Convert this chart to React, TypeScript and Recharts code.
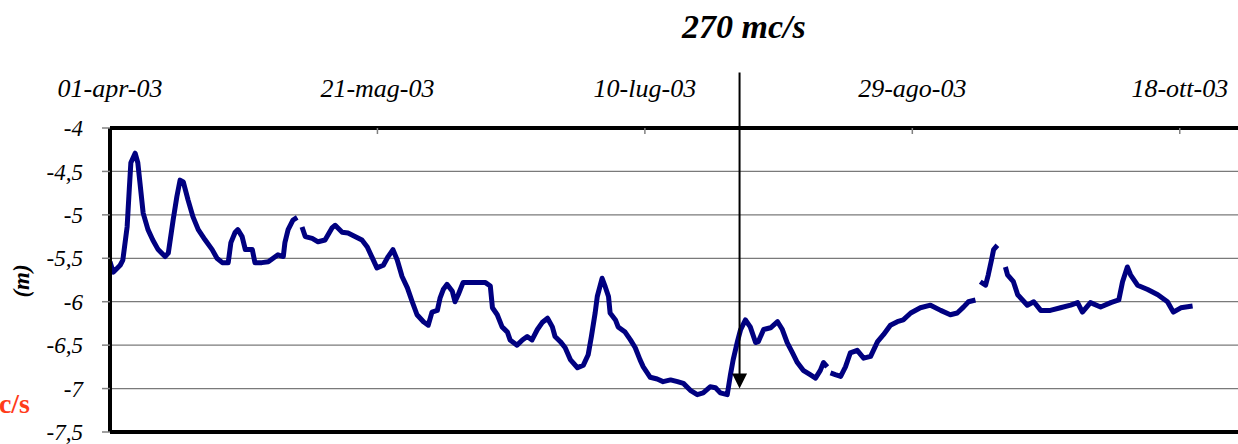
import {
  LineChart,
  Line,
  XAxis,
  YAxis,
  CartesianGrid,
  ReferenceLine,
  ReferenceDot,
} from "recharts";

// days counted from 01-apr-03, water level in metres (null = gap in record)
const days = [
  0, 0.6, 1.9, 2.4, 3.2, 3.6, 3.9, 4.7, 5.2, 5.6, 6.2, 7.1, 8.0, 9.0, 10.3, 10.9,
  11.8, 12.5, 13.1, 13.7, 14.6, 15.5, 16.5, 17.8, 19.1, 20.0, 21.0, 22.1, 22.6,
  23.4, 23.9, 24.7, 25.3, 26.6, 27.1, 28.4, 29.6, 30.5, 31.4, 32.4, 32.7, 33.3,
  34.2, 35.0, 35.4, 35.9, 36.5, 37.8, 38.9, 40.2, 41.5, 42.1, 43.4, 44.5, 45.8,
  47.1, 48.1, 49.0, 49.9, 51.1, 52.0, 52.9, 53.7, 54.6, 55.6, 56.5, 57.4, 58.6,
  59.5, 60.2, 61.2, 61.7, 62.3, 63.0, 64.0, 64.5, 65.1, 66.0, 67.3, 70.2, 71.1,
  71.5, 72.4, 73.3, 74.3, 74.8, 76.1, 77.1, 78.0, 78.9, 79.9, 80.8, 81.8, 82.7,
  83.2, 84.2, 85.1, 86.1, 87.4, 88.5, 89.4, 90.0, 90.7, 91.1, 92.0, 92.6, 93.2,
  93.5, 94.5, 95.0, 96.3, 97.3, 98.2, 99.1, 99.7, 101.0, 102.3, 103.4, 104.8,
  106.1, 107.2, 108.5, 109.8, 110.9, 112.2, 113.2, 114.1, 115.4, 116.0, 116.5,
  117.3, 117.9, 118.8, 119.7, 120.7, 121.2, 122.2, 123.5, 124.8, 125.7, 126.6,
  127.6, 128.5, 129.6, 130.9, 131.9, 132.8, 133.4, 134.1, 134.4, 134.7, 135.6,
  136.6, 137.5, 138.4, 139.7, 140.9, 142.2, 143.5, 144.6, 145.9, 147.2, 148.3,
  149.7, 151.5, 153.4, 155.3, 157.1, 158.4, 159.6, 160.5, 161.8, 162.3, 162.7,
  163.7, 164.2, 164.8, 165.2, 165.9, 166.7, 167.4, 167.8, 168.9, 169.7, 170.6,
  171.5, 172.7, 174.0, 175.8, 177.7, 179.6, 180.9, 181.8, 183.3, 185.2, 187.1,
  188.6, 189.3, 190.2, 190.8, 192.1, 194.0, 195.9, 197.7, 198.8, 200.2, 202.4,
];

const levels = [
  -5.54, -5.66, -5.58, -5.52, -5.14, -4.71, -4.4, -4.29, -4.4, -4.63, -4.98, -5.17,
  -5.29, -5.4, -5.48, -5.44, -5.06, -4.79, -4.6, -4.62, -4.83, -5.02, -5.17, -5.29,
  -5.4, -5.5, -5.55, -5.55, -5.32, -5.2, -5.17, -5.25, -5.4, -5.4, -5.55, -5.55,
  -5.54, -5.5, -5.46, -5.48, -5.32, -5.17, -5.06, -5.03, null, -5.14, -5.25, -5.27,
  -5.31, -5.29, -5.15, -5.12, -5.2, -5.21, -5.25, -5.29, -5.37, -5.49, -5.61,
  -5.58, -5.48, -5.4, -5.52, -5.71, -5.84, -6.0, -6.15, -6.23, -6.27, -6.12, -6.1,
  -5.96, -5.86, -5.8, -5.88, -6.0, -5.92, -5.78, -5.78, -5.78, -5.82, -6.07, -6.15,
  -6.29, -6.35, -6.44, -6.5, -6.44, -6.4, -6.44, -6.32, -6.24, -6.19, -6.29, -6.4,
  -6.46, -6.53, -6.67, -6.76, -6.73, -6.61, -6.4, -6.13, -5.94, -5.73, -5.83, -5.94,
  -6.13, -6.21, -6.29, -6.35, -6.44, -6.53, -6.67, -6.75, -6.87, -6.89, -6.92,
  -6.9, -6.92, -6.94, -7.02, -7.07, -7.05, -6.98, -6.99, -7.05, -7.07, -6.84, -6.67,
  -6.46, -6.32, -6.21, -6.29, -6.47, -6.46, -6.32, -6.3, -6.23, -6.32, -6.47, -6.59,
  -6.7, -6.79, -6.84, -6.88, -6.79, -6.7, -6.75, null, -6.82, -6.84, -6.86, -6.75,
  -6.59, -6.56, -6.65, -6.63, -6.46, -6.38, -6.27, -6.23, -6.21, -6.13, -6.07,
  -6.04, -6.1, -6.15, -6.13, -6.06, -6.0, -5.98, null, -5.77, -5.81, -5.69, -5.52,
  -5.4, -5.35, null, -5.6, -5.69, -5.77, -5.92, -5.98, -6.04, -6.0, -6.1, -6.1,
  -6.07, -6.04, -6.01, -6.12, -6.01, -6.06, -6.01, -5.98, -5.77, -5.6, -5.69, -5.81,
  -5.86, -5.92, -6.0, -6.12, -6.07, -6.05,
];

const tickDays = [0, 50, 100, 150, 200];
const tickLabels = ["01-apr-03", "21-mag-03", "10-lug-03", "29-ago-03", "18-ott-03"];
const levelTicks = [-4, -4.5, -5, -5.5, -6, -6.5, -7, -7.5];

// flow change marker (270 mc/s)
const markerDay = 117.7;
const markerTop = -3.36;
const markerTip = -7.0;

const data = days.map((d, i) => ({ day: d, level: levels[i] }));

const serif = "Liberation Serif, DejaVu Serif, Noto Serif, serif";

const ArrowHead = (props: any) => {
  const { cx, cy } = props;
  if (cx == null || cy == null) return <g />;
  return (
    <polygon
      points={`${cx},${cy} ${cx - 7.5},${cy - 15} ${cx + 7.5},${cy - 15}`}
      fill="#000"
    />
  );
};

export default function App() {
  return (
    <div
      style={{
        position: "absolute",
        left: 0,
        top: 0,
        width: 1238,
        height: 444,
        overflow: "hidden",
        background: "#fff",
        fontFamily: serif,
      }}
    >
      <LineChart
        width={1260}
        height={444}
        data={data}
        margin={{ top: 88, right: 0, left: 0, bottom: 12 }}
        style={{ fontFamily: serif }}
      >
        <CartesianGrid vertical={false} stroke="#7a7a7a" strokeWidth={1.2} />
        <XAxis
          dataKey="day"
          type="number"
          orientation="top"
          domain={[0, 215]}
          allowDataOverflow
          ticks={tickDays}
          tickFormatter={(v: number) => tickLabels[tickDays.indexOf(v)] ?? ""}
          height={40}
          tickSize={-6}
          tickMargin={37}
          axisLine={{ stroke: "#000", strokeWidth: 4 }}
          tickLine={{ stroke: "#808080", strokeWidth: 1.5 }}
          tick={{ fontFamily: serif, fontSize: 26, fontStyle: "italic", fill: "#000" }}
        />
        <YAxis
          type="number"
          domain={[-7.5, -4]}
          ticks={levelTicks}
          width={110}
          interval={0}
          tickSize={8}
          tickMargin={19}
          tickFormatter={(v: number) => String(v).replace(".", ",")}
          axisLine={{ stroke: "#000", strokeWidth: 4 }}
          tickLine={{ stroke: "#808080", strokeWidth: 1.5 }}
          tick={{ fontFamily: serif, fontSize: 23, fontStyle: "italic", fill: "#000" }}
        />
        <ReferenceLine y={-7.5} stroke="#000" strokeWidth={4} />
        <Line
          type="linear"
          dataKey="level"
          stroke="#000080"
          strokeWidth={5}
          strokeLinejoin="round"
          dot={false}
          connectNulls={false}
          isAnimationActive={false}
        />
        <ReferenceLine
          segment={[
            { x: markerDay, y: markerTop },
            { x: markerDay, y: markerTip + 0.1 },
          ]}
          ifOverflow="visible"
          stroke="#000"
          strokeWidth={2}
        />
        <ReferenceDot
          x={markerDay}
          y={markerTip}
          ifOverflow="visible"
          shape={ArrowHead}
        />
      </LineChart>

      <div
        style={{
          position: "absolute",
          left: 682,
          top: 10,
          fontSize: 34,
          lineHeight: "34px",
          fontWeight: "bold",
          fontStyle: "italic",
          whiteSpace: "nowrap",
        }}
      >
        270 mc/s
      </div>

      <div
        style={{
          position: "absolute",
          left: 22,
          top: 281,
          transform: "translate(-50%, -50%) rotate(-90deg)",
          fontSize: 23,
          fontWeight: "bold",
          fontStyle: "italic",
          whiteSpace: "nowrap",
        }}
      >
        (m)
      </div>

      <div
        style={{
          position: "absolute",
          left: -70,
          width: 100,
          top: 390,
          textAlign: "right",
          fontSize: 28,
          lineHeight: "28px",
          fontWeight: "bold",
          color: "#ff3b1a",
          whiteSpace: "nowrap",
        }}
      >
        mc/s
      </div>
    </div>
  );
}
